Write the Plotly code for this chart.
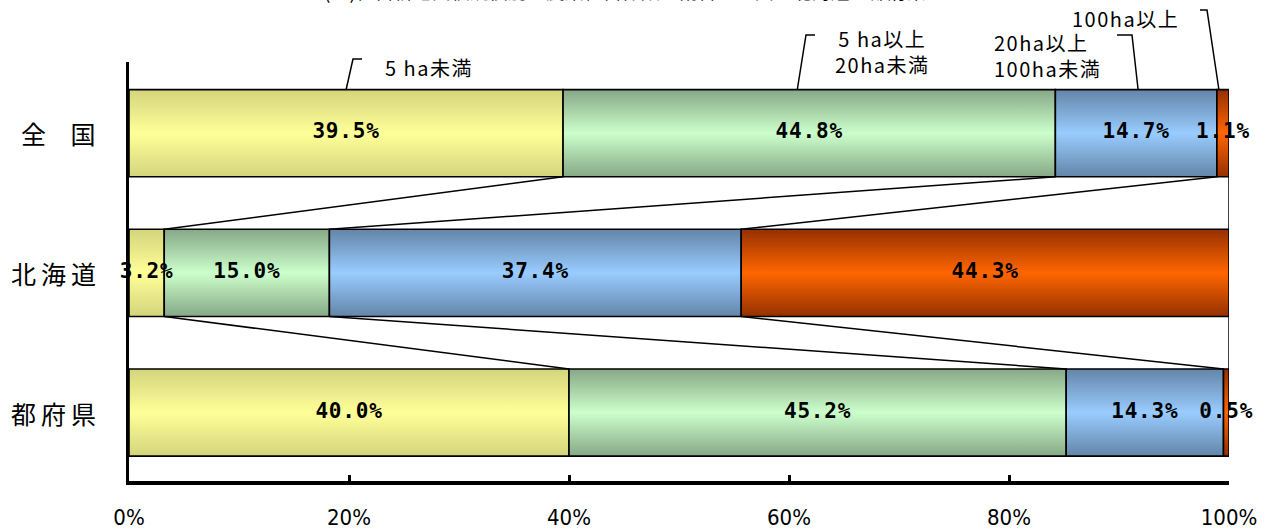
import plotly.graph_objects as go

# ---------------- data ----------------
categories = ["全 国", "北海道", "都府県"]
series_names = ["5 ha未満", "5 ha以上<br>20ha未満", "20ha以上<br>100ha未満", "100ha以上"]
zenkoku = [39.5, 44.8, 14.7, 1.1]
hokkaido = [3.2, 15.0, 37.4, 44.3]
tofuken = [40.0, 45.2, 14.3, 0.5]
x_tick_values = [0, 20, 40, 60, 80, 100]
x_tick_labels = ["0%", "20%", "40%", "60%", "80%", "100%"]
title_text = "(イ)経営耕地面積規模別の農業経営体数の割合（全国・北海道・都府県）"

rows = [zenkoku, hokkaido, tofuken]

# ---------------- style ----------------
light = ["#FFFF99", "#CCFFCC", "#99CCFF", "#FF6600"]
dark = ["#D4D47C", "#86A886", "#6385A8", "#953000"]
y_pos = [2, 1, 0]
y_range = [-0.49, 2.51]
half = 0.312
W, H = 1268, 531
ML, MR, MT, MB = 129, 39, 62, 50
plot_h = H - MT - MB
plot_w = W - ML - MR


def ypaper(px):
    return (H - MB - px) / plot_h


fig = go.Figure()

# bar segments (gradient-filled polygons, normalised like a 100% stacked bar)
bounds = []
centers = []
for ci, vals in enumerate(rows):
    tot = sum(vals)
    cum = 0.0
    b = []
    c = []
    yc = y_pos[ci]
    for si, v in enumerate(vals):
        x0 = cum / tot * 100
        cum += v
        x1 = cum / tot * 100
        b.append(x1)
        c.append((x0 + x1) / 2)
        fig.add_trace(go.Scatter(
            x=[x0, x1, x1, x0, x0],
            y=[yc - half, yc - half, yc + half, yc + half, yc - half],
            mode="lines", fill="toself",
            fillgradient=dict(type="vertical",
                              colorscale=[[0, dark[si]], [0.5, light[si]], [1, dark[si]]]),
            line=dict(color="black", width=1.6),
            hoverinfo="skip", showlegend=False))
    bounds.append(b)
    centers.append(c)

# series lines between bars
for ci in range(len(rows) - 1):
    for k in range(len(rows[ci])):
        fig.add_trace(go.Scatter(
            x=[bounds[ci][k], bounds[ci + 1][k]],
            y=[y_pos[ci] - half, y_pos[ci + 1] + half],
            mode="lines", line=dict(color="black", width=1.5),
            hoverinfo="skip", showlegend=False))

# data labels
tx, ty, tt = [], [], []
for ci, vals in enumerate(rows):
    for si, v in enumerate(vals):
        tx.append(centers[ci][si])
        ty.append(y_pos[ci])
        tt.append('<span style="letter-spacing:0.8px">%.1f%%</span>' % v)
fig.add_trace(go.Scatter(
    x=tx, y=ty, text=tt, mode="text", textposition="middle center",
    textfont=dict(family="DejaVu Sans Mono", size=21, color="black", weight="bold"),
    cliponaxis=False, hoverinfo="skip", showlegend=False))

annotations = []
# category labels
for ci, cat in enumerate(categories):
    annotations.append(dict(
        x=0, xref="paper", y=y_pos[ci], yref="y", xanchor="right", yanchor="middle",
        xshift=-26, showarrow=False,
        text='<span style="letter-spacing:5px; word-spacing:9px">%s</span>' % cat,
        font=dict(family="Noto Sans CJK JP", size=25, color="black")))

# series name labels (placed above the 全国 bar) with leader lines
lab_font = dict(family="Noto Sans CJK JP", size=20, color="black")
label_specs = [
    # x(px), y(px), xanchor, align
    (383, 67, "left", "left"),
    (882, 52, "center", "center"),
    (992, 56, "left", "left"),
    (1070, 18, "left", "left"),
]
for si, (lx, ly, xa, al) in enumerate(label_specs):
    annotations.append(dict(
        x=(lx - ML) / plot_w * 100, xref="x", y=ypaper(ly), yref="paper",
        xanchor=xa, yanchor="middle", align=al, showarrow=False,
        text='<span style="letter-spacing:1.5px">%s</span>' % series_names[si],
        font=lab_font))

# leader polylines: (bottom px offset from segment centre, elbow px, end px, top y px)
leader_specs = [
    (0, 353, 362, 59),
    (-12, 806, 815, 35),
    (2, 1132, 1117, 35),
    (-4, 1207, 1200, 10),
]
bar_top_px = 90
shapes = []
for si, (dx, ex, endx, ty_px) in enumerate(leader_specs):
    bx = centers[0][si] + dx / plot_w * 100
    exd = (ex - ML) / plot_w * 100
    endd = (endx - ML) / plot_w * 100
    path = "M %f,%f L %f,%f L %f,%f" % (bx, ypaper(bar_top_px), exd, ypaper(ty_px), endd, ypaper(ty_px))
    shapes.append(dict(type="path", path=path, xref="x", yref="paper",
                       line=dict(color="black", width=1.5)))

# clipped title at the very top
annotations.append(dict(
    x=(634 - ML) / plot_w, xref="paper", y=ypaper(6), yref="paper",
    xanchor="center", yanchor="bottom", showarrow=False, text=title_text,
    font=dict(family="Noto Sans CJK JP", size=19, color="black")))

fig.update_layout(
    width=W, height=H,
    margin=dict(l=ML, r=MR, t=MT, b=MB, pad=0, autoexpand=False),
    paper_bgcolor="white", plot_bgcolor="white",
    showlegend=False,
    annotations=annotations, shapes=shapes,
    xaxis=dict(range=[0, 100], tickvals=x_tick_values, ticktext=x_tick_labels,
               ticks="inside", ticklen=6, tickwidth=2.5, tickcolor="black",
               showline=True, linewidth=3.5, linecolor="black",
               showgrid=False, zeroline=False, fixedrange=True,
               automargin=False, ticklabelstandoff=14,
               tickfont=dict(family="Liberation Sans Narrow, DejaVu Sans Condensed, Liberation Sans",
                             size=22, color="black")),
    yaxis=dict(range=y_range, showticklabels=False, ticks="",
               showline=True, linewidth=3, linecolor="black",
               showgrid=False, zeroline=False, fixedrange=True, automargin=False),
)

fig.write_html("out.html", config={"displayModeBar": False},
               post_script="document.body.style.margin='0';document.body.style.overflow='hidden';")
